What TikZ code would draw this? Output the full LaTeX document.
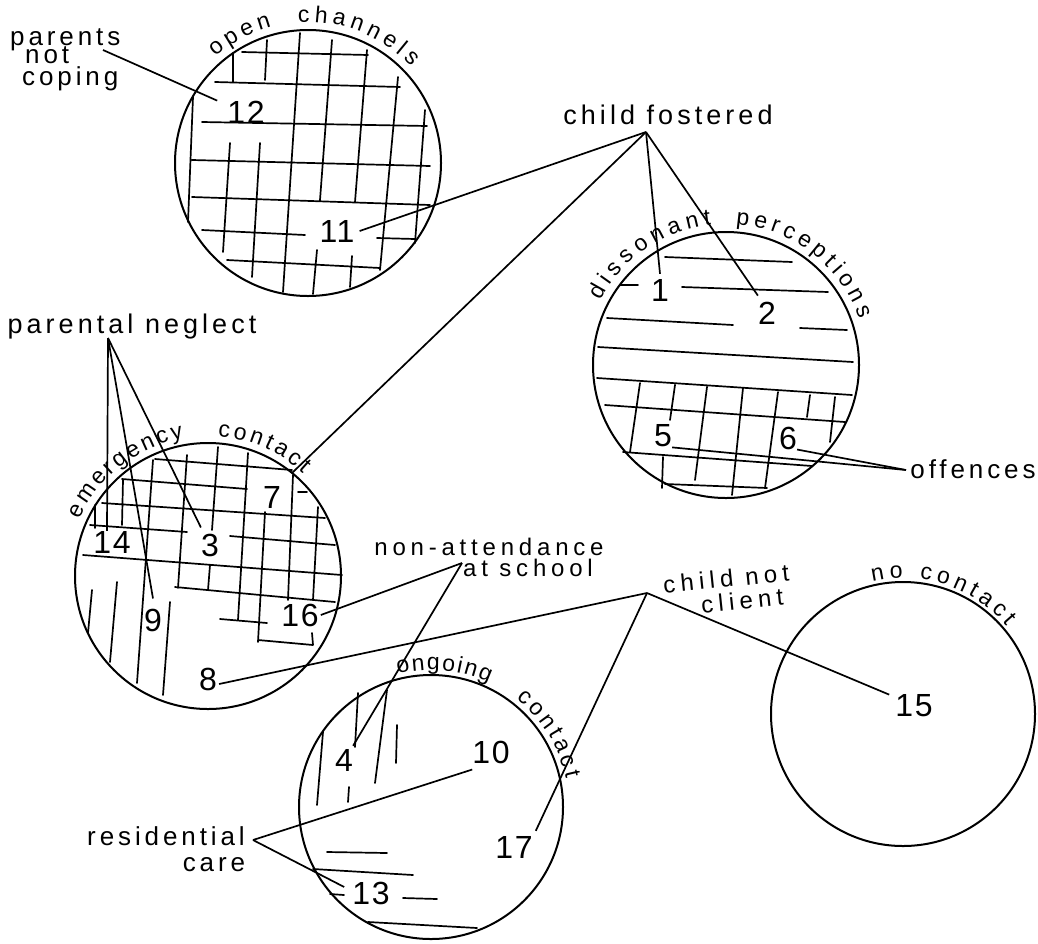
\documentclass[tikz,border=0pt]{standalone}
\usepackage{fontspec}
\setmainfont{Liberation Sans}[LetterSpace=15]
\usetikzlibrary{decorations.text}
\newcommand\ctxt{\fontsize{23}{23}\selectfont\addfontfeature{LetterSpace=0}}
\begin{document}
\begin{tikzpicture}[x=1pt,y=-1pt,
  ring/.style={draw, circle, line width=2pt, inner sep=0pt, minimum size=#1},
  hatch/.style={line width=1.7pt, line cap=round},
  conn/.style={line width=1.7pt},
  num/.style={font=\fontsize{32}{32}\selectfont\addfontfeature{LetterSpace=5}, inner sep=0pt},
  lbl/.style={font=\fontsize{26}{26}\selectfont, inner sep=0pt},
  arctext/.style={decorate, decoration={text along path, text={|\ctxt|#1}, text align={fit to path}}}]
\useasboundingbox (0,0) rectangle (1038,943);

% circles
\node[ring=266pt] (C1) at (308,163) {};
\node[ring=266pt] (C2) at (726,365) {};
\node[ring=266pt] (C3) at (208,576) {};
\node[ring=264pt] (C4) at (431,807) {};
\node[ring=264pt] (C5) at (903,714) {};

% curved circle titles
\path[arctext={open}] (C1.center) ++(-131:141) arc[start angle=-131, end angle=-105, radius=141];
\path[arctext={channels}] (C1.center) ++(-94:141) arc[start angle=-94, end angle=-43, radius=141];
\path[arctext={dissonant}] (C2.center) ++(-153:141) arc[start angle=-153, end angle=-96, radius=141];
\path[arctext={perceptions}] (C2.center) ++(-86:141) arc[start angle=-86, end angle=-19, radius=141];
\path[arctext={emergency}] (C3.center) ++(-156:140) arc[start angle=-156, end angle=-100, radius=140];
\path[arctext={contact}] (C3.center) ++(-86:140) arc[start angle=-86, end angle=-47, radius=140];
\path[arctext={ongoing}] (C4.center) ++(-104:137) arc[start angle=-104, end angle=-65, radius=137];
\path[arctext={contact}] (C4.center) ++(-52:138) arc[start angle=-52, end angle=-12, radius=138];
\path[arctext={no}] (C5.center) ++(-103:136) arc[start angle=-103, end angle=-90, radius=136];
\path[arctext={contact}] (C5.center) ++(-83:136) arc[start angle=-83, end angle=-40, radius=136];

% hatching circle 1
\draw[hatch]
 (242,52)--(368,55) (215,82)--(400,87) (202,122)--(427,126) (192,160)--(430,166)
 (192,197)--(430,205) (202,230)--(305,235) (377,238)--(415,239) (227,260)--(380,268)
 (193,97)--(188,222) (233,53)--(233,82) (267,40)--(265,80) (230,143)--(223,252)
 (260,143)--(252,277) (300,33)--(283,292) (332,40)--(320,200) (367,50)--(355,202)
 (398,77)--(380,270) (425,110)--(415,243) (317,250)--(313,294) (352,256)--(350,287);

% hatching circle 2
\draw[hatch]
 (665,257)--(792,262) (620,285)--(638,285) (682,287)--(828,292) (607,318)--(733,325)
 (800,328)--(847,330) (598,347)--(853,362) (597,378)--(852,395) (605,405)--(845,422)
 (623,452)--(812,466) (665,484)--(767,488)
 (640,383)--(630,452) (675,385)--(670,420) (707,387)--(695,480) (743,388)--(732,495)
 (778,392)--(765,488) (810,395)--(807,417) (835,397)--(830,442) (663,457)--(662,488);

% hatching circle 3
\draw[hatch]
 (155,459)--(292,470) (122,479)--(247,489) (298,492)--(307,492) (102,503)--(325,518)
 (90,525)--(187,532) (230,536)--(335,545) (83,555)--(342,575) (175,587)--(335,602)
 (220,619)--(267,623) (258,640)--(313,645)
 (95,505)--(95,528) (123,480)--(122,525) (153,460)--(137,683) (187,455)--(178,588)
 (218,447)--(212,530) (210,565)--(208,590) (248,453)--(238,620) (265,512)--(258,642)
 (293,475)--(288,600) (318,507)--(313,600) (312,633)--(313,645)
 (92,590)--(88,633) (117,582)--(110,662) (170,602)--(163,695);

% hatching circle 4
\draw[hatch]
 (323,732)--(317,805) (358,693)--(355,747) (387,690)--(375,783) (397,725)--(396,763)
 (349,787)--(348,802)
 (327,852)--(387,853) (313,869)--(413,875) (330,894)--(344,895) (403,898)--(437,899)
 (368,922)--(477,928);

% numbers
\node[num] (n12) at (246,112) {12};
\node[num] (n11) at (337,231) {11};
\node[num] (n1) at (660,290) {1};
\node[num] (n2) at (767,313) {2};
\node[num] (n5) at (663,436) {5};
\node[num] (n6) at (788,438) {6};
\node[num] (n7) at (272,497) {7};
\node[num] (n14) at (112,542) {14};
\node[num] (n3) at (210,545) {3};
\node[num] (n9) at (153,620) {9};
\node[num] (n16) at (300,615) {16};
\node[num] (n8) at (208,679) {8};
\node[num] (n4) at (344,760) {4};
\node[num] (n10) at (491,752) {10};
\node[num] (n17) at (514,847) {17};
\node[num] (n13) at (371,893) {13};
\node[num] (n15) at (914,706) {15};

% labels
\node[lbl, anchor=base west] (pn1) at (10,45) {parents};
\node[lbl, anchor=base west] (pn2) at (25,63) {not};
\node[lbl, anchor=base west] (pn3) at (22,85) {coping};
\node[lbl, anchor=base, font=\fontsize{27}{27}\selectfont] (cf) at (668,124) {child fostered};
\node[lbl, anchor=base, font=\fontsize{27}{27}\selectfont] (pn) at (132,333) {parental neglect};
\node[lbl, anchor=base, font=\fontsize{24}{24}\selectfont\addfontfeature{LetterSpace=20}] (na1) at (489,555) {non-attendance};
\node[lbl, anchor=base, font=\fontsize{24}{24}\selectfont\addfontfeature{LetterSpace=20}] (na2) at (528,576) {at school};
\node[lbl, anchor=base, rotate=6, font=\fontsize{24}{24}\selectfont\addfontfeature{LetterSpace=22}] (cn1) at (727,587) {child not};
\node[lbl, anchor=base, rotate=6, font=\fontsize{24}{24}\selectfont\addfontfeature{LetterSpace=22}] (cn2) at (743,609) {client};
\node[lbl, anchor=base] (rc1) at (166,845) {residential};
\node[lbl, anchor=base] (rc2) at (214,871) {care};
\node[lbl, anchor=base] (off) at (973,478) {offences};

% connector junctions
\coordinate (cfA) at (646,132);
\coordinate (pnA) at (108,338);
\coordinate (naA) at (462,563);
\coordinate (cnA) at (647,593);
\coordinate (rcA) at (253,840);
\coordinate (offA) at (906,470);
\coordinate (pncE) at (103,50);
\coordinate (e7) at (292,473);

% connectors
\draw[conn] (pncE) -- ([xshift=-10pt]n12.north west);
\draw[conn] (cfA) -- ([xshift=5pt]n11.east);
\draw[conn] (cfA) -- (e7);
\draw[conn] (cfA) -- ([yshift=5pt]n1.north);
\draw[conn] (cfA) -- ([yshift=6pt]n2.north west);
\draw[conn] (n5.south east) -- (offA);
\draw[conn] (n6.south east) -- (offA);
\draw[conn] (pnA) -- ([xshift=-5pt]n14.north);
\draw[conn] (pnA) -- ([yshift=10pt]n9.north);
\draw[conn] (pnA) -- ([yshift=6pt]n3.north west);
\draw[conn] ([xshift=2pt]n16.east) -- (naA);
\draw[conn] (naA) -- ([yshift=3pt]n4.north east);
\draw[conn] ([xshift=2pt,yshift=-5pt]n8.east) -- (cnA);
\draw[conn] (cnA) -- ([xshift=-6pt]n15.north west);
\draw[conn] (cnA) -- ([xshift=3pt,yshift=5pt]n17.north east);
\draw[conn] (rcA) -- ([yshift=-6pt]n10.south west);
\draw[conn] (rcA) -- ([xshift=-8pt,yshift=6pt]n13.west);
\end{tikzpicture}
\end{document}
